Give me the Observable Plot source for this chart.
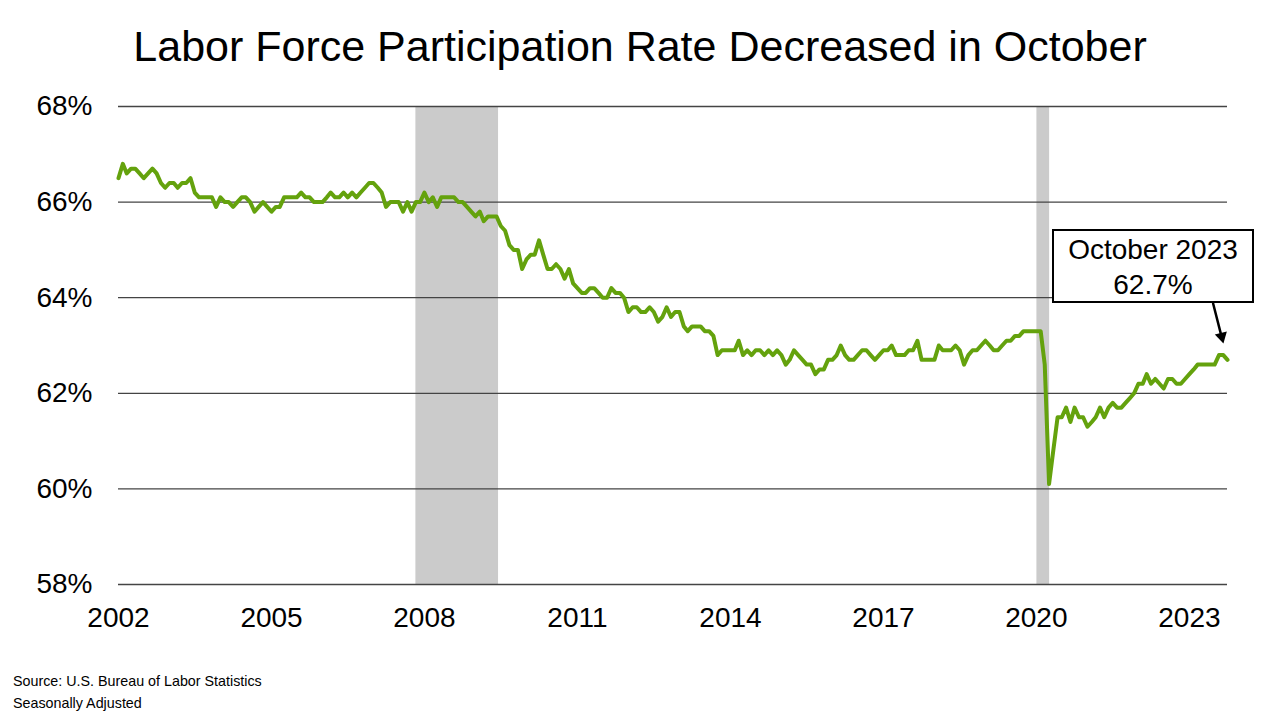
<!DOCTYPE html>
<html>
<head>
<meta charset="utf-8">
<script src="https://cdn.jsdelivr.net/npm/d3@7"></script>
<script src="https://cdn.jsdelivr.net/npm/@observablehq/plot@0.6"></script>
<style>
  html, body { margin: 0; padding: 0; background: #fff; }
  #page { position: relative; width: 1280px; height: 720px; overflow: hidden; font-family: "Liberation Sans", Arial, sans-serif; color: #000; }
  #title { height: 80px; box-sizing: border-box; padding-top: 25px; font-size: 43px; line-height: 43px; text-align: center; white-space: nowrap; }
  #chart svg { display: block; }
  #callout { position: absolute; left: 1052px; top: 229px; width: 202px; height: 74px; box-sizing: border-box;
             border: 2.5px solid #000; background: #fff; font-size: 28px; line-height: 35px; text-align: center; padding-top: 1px; }
  #footer { position: absolute; left: 13px; top: 671px; font-size: 14.3px; line-height: 21.6px; }
</style>
</head>
<body>
<div id="page">
  <div id="title">Labor Force Participation Rate Decreased in October</div>
  <div id="chart"></div>
  <div id="callout"></div>
  <div id="footer"><div>Source: U.S. Bureau of Labor Statistics</div><div>Seasonally Adjusted</div></div>
</div>
<script>
// ---- Data (monthly, seasonally adjusted, Jan 2002 – Oct 2023) ----
const startMonth = "2002-01-01";
const lfpr = [
  66.5, 66.8, 66.6, 66.7, 66.7, 66.6, 66.5, 66.6, 66.7, 66.6, 66.4, 66.3, // 2002
  66.4, 66.4, 66.3, 66.4, 66.4, 66.5, 66.2, 66.1, 66.1, 66.1, 66.1, 65.9, // 2003
  66.1, 66.0, 66.0, 65.9, 66.0, 66.1, 66.1, 66.0, 65.8, 65.9, 66.0, 65.9, // 2004
  65.8, 65.9, 65.9, 66.1, 66.1, 66.1, 66.1, 66.2, 66.1, 66.1, 66.0, 66.0, // 2005
  66.0, 66.1, 66.2, 66.1, 66.1, 66.2, 66.1, 66.2, 66.1, 66.2, 66.3, 66.4, // 2006
  66.4, 66.3, 66.2, 65.9, 66.0, 66.0, 66.0, 65.8, 66.0, 65.8, 66.0, 66.0, // 2007
  66.2, 66.0, 66.1, 65.9, 66.1, 66.1, 66.1, 66.1, 66.0, 66.0, 65.9, 65.8, // 2008
  65.7, 65.8, 65.6, 65.7, 65.7, 65.7, 65.5, 65.4, 65.1, 65.0, 65.0, 64.6, // 2009
  64.8, 64.9, 64.9, 65.2, 64.9, 64.6, 64.6, 64.7, 64.6, 64.4, 64.6, 64.3, // 2010
  64.2, 64.1, 64.1, 64.2, 64.2, 64.1, 64.0, 64.0, 64.2, 64.1, 64.1, 64.0, // 2011
  63.7, 63.8, 63.8, 63.7, 63.7, 63.8, 63.7, 63.5, 63.6, 63.8, 63.6, 63.7, // 2012
  63.7, 63.4, 63.3, 63.4, 63.4, 63.4, 63.3, 63.3, 63.2, 62.8, 62.9, 62.9, // 2013
  62.9, 62.9, 63.1, 62.8, 62.9, 62.8, 62.9, 62.9, 62.8, 62.9, 62.8, 62.9, // 2014
  62.8, 62.6, 62.7, 62.9, 62.8, 62.7, 62.6, 62.6, 62.4, 62.5, 62.5, 62.7, // 2015
  62.7, 62.8, 63.0, 62.8, 62.7, 62.7, 62.8, 62.9, 62.9, 62.8, 62.7, 62.8, // 2016
  62.9, 62.9, 63.0, 62.8, 62.8, 62.8, 62.9, 62.9, 63.1, 62.7, 62.7, 62.7, // 2017
  62.7, 63.0, 62.9, 62.9, 62.9, 63.0, 62.9, 62.6, 62.8, 62.9, 62.9, 63.0, // 2018
  63.1, 63.0, 62.9, 62.9, 63.0, 63.1, 63.1, 63.2, 63.2, 63.3, 63.3, 63.3, // 2019
  63.3, 63.3, 62.6, 60.1, 60.8, 61.5, 61.5, 61.7, 61.4, 61.7, 61.5, 61.5, // 2020
  61.3, 61.4, 61.5, 61.7, 61.5, 61.7, 61.8, 61.7, 61.7, 61.8, 61.9, 62.0, // 2021
  62.2, 62.2, 62.4, 62.2, 62.3, 62.2, 62.1, 62.3, 62.3, 62.2, 62.2, 62.3, // 2022
  62.4, 62.5, 62.6, 62.6, 62.6, 62.6, 62.6, 62.8, 62.8, 62.7              // 2023
];
const yTicks = [58, 60, 62, 64, 66, 68];
const xTickYears = [2002, 2005, 2008, 2011, 2014, 2017, 2020, 2023];
const recessionStart = ["2007-11-01", "2020-01-05"];
const recessionEnd   = ["2009-06-15", "2020-04-05"];
const calloutLines = ["October 2023", "62.7%"];
const calloutArrowFrom = { date: "2023-06-20", value: 63.88 };

// ---- Build tables ----
const start = new Date(startMonth);
const series = lfpr.map((v, i) => ({ date: d3.utcMonth.offset(start, i), value: v }));
const last = series[series.length - 1];
const recessions = recessionStart.map((s, i) => ({ start: new Date(s), end: new Date(recessionEnd[i]) }));
const xTicks = xTickYears.map(y => new Date(Date.UTC(y, 0, 1)));
const arrowData = [{ x1: new Date(calloutArrowFrom.date), y1: calloutArrowFrom.value, x2: last.date, y2: last.value }];

document.getElementById("callout").innerHTML = calloutLines.map(t => `<div>${t}</div>`).join("");

const chart = Plot.plot({
  width: 1280,
  height: 580,
  marginLeft: 118,
  marginRight: 53,
  marginTop: 26,
  marginBottom: 76,
  style: { fontFamily: "'Liberation Sans', Arial, sans-serif", fontSize: "28px", color: "#000", background: "transparent", overflow: "visible" },
  x: { type: "utc", domain: [series[0].date, last.date] },
  y: { domain: [58, 68] },
  marks: [
    Plot.rect(recessions, { x1: "start", x2: "end", y1: 58, y2: 68, fill: "#cbcbcb" }),
    Plot.ruleY(yTicks, { stroke: "#444", strokeWidth: 1.3 }),
    Plot.axisY(yTicks, { tickSize: 0, tickPadding: 26, tickFormat: d => d + "%", fontSize: 28 }),
    Plot.axisX(xTicks, { tickSize: 0, tickPadding: 23, tickFormat: d3.utcFormat("%Y"), fontSize: 28 }),
    Plot.line(series, { x: "date", y: "value", stroke: "#64a20d", strokeWidth: 4, strokeLinejoin: "round", strokeLinecap: "round" }),
    Plot.arrow(arrowData, { x1: "x1", y1: "y1", x2: "x2", y2: "y2", insetEnd: 24, stroke: "#000", strokeWidth: 2.5, headLength: 0 }),
    Plot.dot([last], { x: "date", y: "value", symbol: "triangle", r: 4.6, fill: "#000", stroke: "none", rotate: 166, dx: -5.8, dy: -23.3 })
  ]
});
document.getElementById("chart").appendChild(chart);
</script>
</body>
</html>
